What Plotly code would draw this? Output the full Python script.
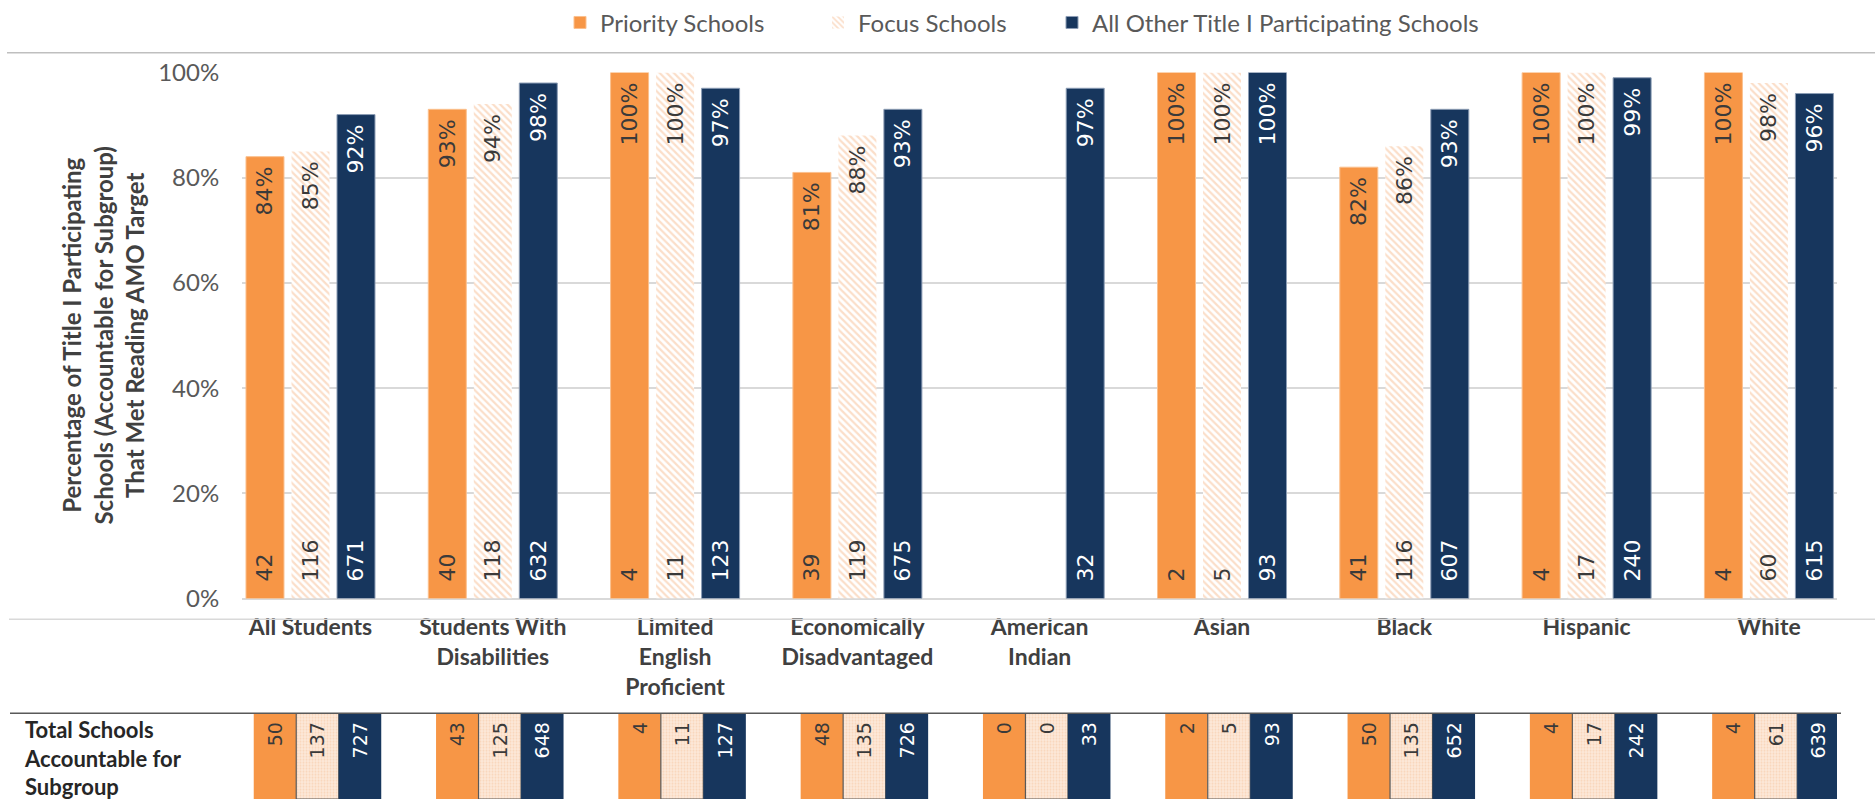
import plotly.graph_objects as go

# ---------------- data ----------------
categories = ["All Students", "Students With<br>Disabilities", "Limited<br>English<br>Proficient",
              "Economically<br>Disadvantaged", "American<br>Indian", "Asian", "Black",
              "Hispanic", "White"]
series_names = ["Priority Schools", "Focus Schools", "All Other Title I Participating Schools"]

priority_pct = [84, 93, 100, 81, None, 100, 82, 100, 100]
focus_pct = [85, 94, 100, 88, None, 100, 86, 100, 98]
other_pct = [92, 98, 97, 93, 97, 100, 93, 99, 96]

priority_met = [42, 40, 4, 39, None, 2, 41, 4, 4]
focus_met = [116, 118, 11, 119, None, 5, 116, 17, 60]
other_met = [671, 632, 123, 675, 32, 93, 607, 240, 615]

priority_total = [50, 43, 4, 48, 0, 2, 50, 4, 4]
focus_total = [137, 125, 11, 135, 0, 5, 135, 17, 61]
other_total = [727, 648, 127, 726, 33, 93, 652, 242, 639]

y_tick_values = [0, 20, 40, 60, 80, 100]
table_label = "Total Schools<br>Accountable for<br>Subgroup"
y_title = "Percentage of Title I Participating<br>Schools (Accountable for Subgroup)<br>That Met Reading AMO Target"

# ---------------- styling / layout helpers ----------------
W, H = 1875, 799
def fx(p):
    return p / W
def fy(p):
    return 1 - p / H

ORANGE = "#F79646"
NAVY = "#17365D"
HATCH = "#F7BE94"
LABEL_FONT = "DejaVu Sans"
TEXT_FONT = "Lato"
NB = "\u00a0"

pct_series = [priority_pct, focus_pct, other_pct]
met_series = [priority_met, focus_met, other_met]
total_series = [priority_total, focus_total, other_total]

bar_w = 0.2084
bar_offsets = [-0.3538, -0.1042, 0.1454]
cell_w = 0.2331
cell_offsets = [-0.3113, -0.0782, 0.1550]
text_colors = ["#3A3A3A", "#3A3A3A", "white"]
legend_ids = ["legend", "legend2", "legend3"]

def fmt(v, pre="", post=""):
    return "" if v is None else pre + str(v) + post

def bar_marker(k):
    if k == 0:
        return dict(color=ORANGE, line=dict(color="#FBC08E", width=1))
    if k == 1:
        return dict(color="white", line=dict(color="white", width=0),
                    pattern=dict(shape="\\", fgcolor=HATCH, bgcolor="white", size=5, solidity=0.45))
    return dict(color=NAVY, line=dict(color="#8C9DB5", width=1))

def cell_marker(k):
    if k == 0:
        return dict(color=ORANGE, line=dict(color="#595959", width=0))
    if k == 1:
        return dict(color="#FCE4D2", line=dict(color="#595959", width=1.2),
                    pattern=dict(shape=".", fgcolor="#F5C29C", bgcolor="#FCE8D8", size=3, solidity=0.35))
    return dict(color=NAVY, line=dict(color="#595959", width=0))

fig = go.Figure()

for k in range(3):
    # percentage bars with value at the top
    fig.add_trace(go.Bar(
        x=categories, y=pct_series[k], name=series_names[k],
        text=[fmt(v, post="%" + NB) for v in pct_series[k]], texttemplate="%{text}",
        width=bar_w, offset=bar_offsets[k], marker=bar_marker(k),
        textposition="inside", insidetextanchor="end",
        textangle=-90, insidetextfont=dict(family=LABEL_FONT, size=22, color=text_colors[k]),
        legend=legend_ids[k], hoverinfo="skip",
        xaxis="x", yaxis="y",
    ))
    # count of schools that met target, printed at the bar base
    fig.add_trace(go.Bar(
        x=categories, y=pct_series[k], text=[fmt(v, pre=NB + NB) for v in met_series[k]],
        texttemplate="%{text}",
        width=bar_w, offset=bar_offsets[k],
        marker=dict(color="rgba(0,0,0,0)", line=dict(width=0)),
        textposition="inside", insidetextanchor="start", textangle=-90,
        insidetextfont=dict(family=LABEL_FONT, size=22, color=text_colors[k]),
        showlegend=False, hoverinfo="skip", xaxis="x", yaxis="y",
    ))
    # table row: total accountable schools
    fig.add_trace(go.Bar(
        x=categories, y=[1] * len(categories),
        text=[fmt(v, post=NB) for v in total_series[k]], texttemplate="%{text}",
        width=cell_w, offset=cell_offsets[k], marker=cell_marker(k),
        textposition="inside", insidetextanchor="end", textangle=-90,
        insidetextfont=dict(family=LABEL_FONT, size=19, color=text_colors[k]),
        showlegend=False, hoverinfo="skip", xaxis="x2", yaxis="y2",
    ))

x_range = [-0.3757, 8.3735]
x_domain = [fx(242), fx(1837)]
legend_font = dict(family=TEXT_FONT, size=24, color="#595959")

fig.update_layout(
    width=W, height=H,
    margin=dict(l=0, r=0, t=0, b=0),
    paper_bgcolor="white", plot_bgcolor="white",
    barmode="overlay",
    font=dict(family=TEXT_FONT, color="#595959"),
    xaxis=dict(domain=x_domain, range=x_range, type="category", showgrid=False,
               showline=False, zeroline=False, ticks="outside", ticklen=8,
               tickcolor="rgba(0,0,0,0)", automargin=False,
               tickfont=dict(family=TEXT_FONT, size=23, color="#404040", weight="bold")),
    yaxis=dict(domain=[fy(597), fy(67)], range=[0, 100], tickvals=y_tick_values,
               ticktext=[str(v) + "%" for v in y_tick_values],
               showgrid=True, gridcolor="#D9D9D9", gridwidth=1.5,
               zeroline=True, zerolinecolor="#D9D9D9", zerolinewidth=1.5, showline=False,
               ticks="outside", ticklen=17, tickcolor="rgba(0,0,0,0)", automargin=False,
               tickfont=dict(family=TEXT_FONT, size=24, color="#595959")),
    xaxis2=dict(domain=x_domain, range=x_range, type="category", showgrid=False,
                showline=False, zeroline=False, showticklabels=False, anchor="y2",
                automargin=False),
    yaxis2=dict(domain=[0, fy(712.5)], range=[0, 1], showgrid=False, zeroline=False,
                showline=False, showticklabels=False, anchor="x2", automargin=False),
    legend=dict(orientation="h", x=fx(560), y=fy(17), xanchor="left", yanchor="middle",
                font=legend_font, bgcolor="rgba(0,0,0,0)"),
    legend2=dict(orientation="h", x=fx(818), y=fy(17), xanchor="left", yanchor="middle",
                 font=legend_font, bgcolor="rgba(0,0,0,0)"),
    legend3=dict(orientation="h", x=fx(1052), y=fy(17), xanchor="left", yanchor="middle",
                 font=legend_font, bgcolor="rgba(0,0,0,0)"),
    shapes=[
        dict(type="line", xref="paper", yref="paper", x0=fx(7), x1=1, y0=fy(47), y1=fy(47),
             line=dict(color="#BFBFBF", width=1.5)),
        dict(type="line", xref="paper", yref="paper", x0=fx(9), x1=1, y0=fy(618), y1=fy(618),
             line=dict(color="#D9D9D9", width=1.5)),
        dict(type="line", xref="paper", yref="paper", x0=fx(10), x1=fx(1841), y0=fy(712.5), y1=fy(712.5),
             line=dict(color="#595959", width=1.5)),
    ],
    annotations=[
        dict(text=y_title, xref="paper", yref="paper", x=fx(103), y=fy(332),
             xanchor="center", yanchor="middle", textangle=-90, showarrow=False,
             font=dict(family=TEXT_FONT, size=24, color="#404040", weight="bold")),
        dict(text=table_label, xref="paper", yref="paper", x=fx(22), y=fy(758),
             xanchor="left", yanchor="middle", align="left", showarrow=False,
             font=dict(family=TEXT_FONT, size=22, color="#262626", weight="bold")),
    ],
)

fig.write_html("out.html", config={"displayModeBar": False},
               post_script="document.body.style.margin='0';")
